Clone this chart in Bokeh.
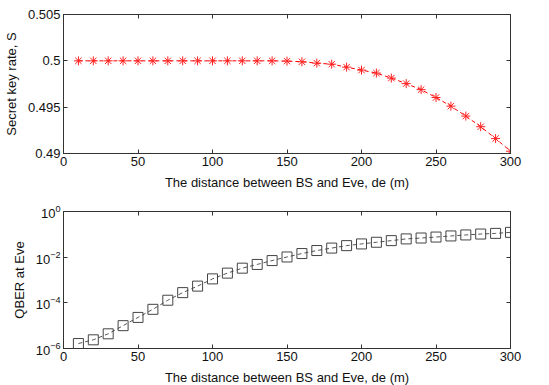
from bokeh.plotting import figure
from bokeh.layouts import column
from bokeh.models import FixedTicker, LinearAxis, LogAxis, Range1d
from bokeh.embed import file_html
from bokeh.resources import INLINE

# ---- data ----
distance = [10, 20, 30, 40, 50, 60, 70, 80, 90, 100, 110, 120, 130, 140, 150,
            160, 170, 180, 190, 200, 210, 220, 230, 240, 250, 260, 270, 280, 290, 300]
secret_key_rate = [0.5, 0.5, 0.5, 0.5, 0.5, 0.5, 0.5, 0.5, 0.5, 0.5, 0.5, 0.5, 0.5, 0.5, 0.49997,
                   0.4999, 0.49975, 0.49964, 0.49932, 0.499, 0.49868, 0.49814, 0.49754, 0.49689,
                   0.49604, 0.49511, 0.49404, 0.49289, 0.49161, 0.49025]
qber_eve = [1.65e-6, 2.4e-6, 4.4e-6, 1.0e-5, 2.3e-5, 5.2e-5, 1.3e-4, 2.8e-4, 5.4e-4, 1.12e-3,
            2.0e-3, 3.3e-3, 4.8e-3, 7.1e-3, 1.02e-2, 1.44e-2, 1.95e-2, 2.5e-2, 3.2e-2, 3.8e-2,
            4.5e-2, 5.3e-2, 6.3e-2, 6.9e-2, 7.6e-2, 8.5e-2, 9.4e-2, 0.103, 0.110, 0.122]
x_ticks = [0, 50, 100, 150, 200, 250, 300]
top_y_ticks = [0.49, 0.495, 0.5, 0.505]
top_y_labels = ["0.49", "0.495", "0.5", "0.505"]
bottom_y_ticks = [1e-6, 1e-4, 1e-2, 1.0]

FONT = "Liberation Sans"
FS = "13px"
FRAME = "#333333"


def style_axis(ax, labels=True):
    ax.major_tick_in = 4
    ax.major_tick_out = 0
    ax.minor_tick_in = 0
    ax.minor_tick_out = 0
    ax.axis_line_color = FRAME
    ax.major_tick_line_color = FRAME
    ax.major_label_text_font = FONT
    ax.major_label_text_font_size = FS
    ax.major_label_text_color = "#111111"
    ax.axis_label_text_font = FONT
    ax.axis_label_text_font_size = FS
    ax.axis_label_text_font_style = "normal"
    ax.axis_label_text_color = "#111111"
    if not labels:
        ax.major_label_text_font_size = "1px"
        ax.major_label_text_color = None
        ax.major_label_standoff = 0


def make_fig(height, top, bottom, y_axis_type="linear", y_range=None):
    p = figure(width=541, height=height, output_backend="svg", toolbar_location=None,
               x_range=Range1d(0, 300), y_range=y_range, y_axis_type=y_axis_type,
               min_border_left=57, min_border_right=37, min_border_top=top,
               min_border_bottom=bottom)
    p.frame_width = 447
    p.frame_height = height - top - bottom
    p.grid.visible = False
    p.outline_line_color = FRAME
    p.background_fill_color = "white"
    p.border_fill_color = "white"
    return p


# ---- top plot ----
p1 = make_fig(197, 14, 44, y_range=Range1d(0.49, 0.505))
p1.line(distance, secret_key_rate, line_color="#ff0000", line_width=1, line_dash="4 3")
p1.scatter(distance, secret_key_rate, marker="asterisk", size=9, line_color="#ff2020", line_width=1)
p1.xaxis.ticker = FixedTicker(ticks=x_ticks)
p1.yaxis.ticker = FixedTicker(ticks=top_y_ticks)
p1.yaxis.major_label_overrides = dict(zip(top_y_ticks, top_y_labels))
p1.xaxis.axis_label = "The distance between BS and Eve, de (m)"
p1.yaxis.axis_label = "Secret key rate, S"
for ax in p1.xaxis + p1.yaxis:
    style_axis(ax)
    ax.major_label_standoff = 3
    ax.axis_label_standoff = 6
r1 = LinearAxis(ticker=FixedTicker(ticks=top_y_ticks))
a1 = LinearAxis(ticker=FixedTicker(ticks=x_ticks))
style_axis(r1, False)
style_axis(a1, False)
p1.add_layout(r1, "right")
p1.add_layout(a1, "above")

# ---- bottom plot ----
p2 = make_fig(187, 14, 36, y_axis_type="log", y_range=Range1d(1e-6, 1.0))
p2.line(distance, qber_eve, line_color="#555555", line_width=1, line_dash="4 3")
p2.scatter(distance, qber_eve, marker="square", size=10, line_color="#444444",
           fill_color=None, line_width=1)
p2.xaxis.ticker = FixedTicker(ticks=x_ticks)
p2.yaxis.ticker = FixedTicker(ticks=bottom_y_ticks)
p2.xaxis.axis_label = "The distance between BS and Eve, de (m)"
p2.yaxis.axis_label = "QBER at Eve"
for ax in p2.xaxis + p2.yaxis:
    style_axis(ax)
    ax.major_label_standoff = 3
    ax.axis_label_standoff = 6
r2 = LogAxis(ticker=FixedTicker(ticks=bottom_y_ticks))
a2 = LinearAxis(ticker=FixedTicker(ticks=x_ticks))
style_axis(r2, False)
style_axis(a2, False)
p2.add_layout(r2, "right")
p2.add_layout(a2, "above")

layout = column(p1, p2, spacing=0)
open("out.html", "w").write(file_html(layout, INLINE))
